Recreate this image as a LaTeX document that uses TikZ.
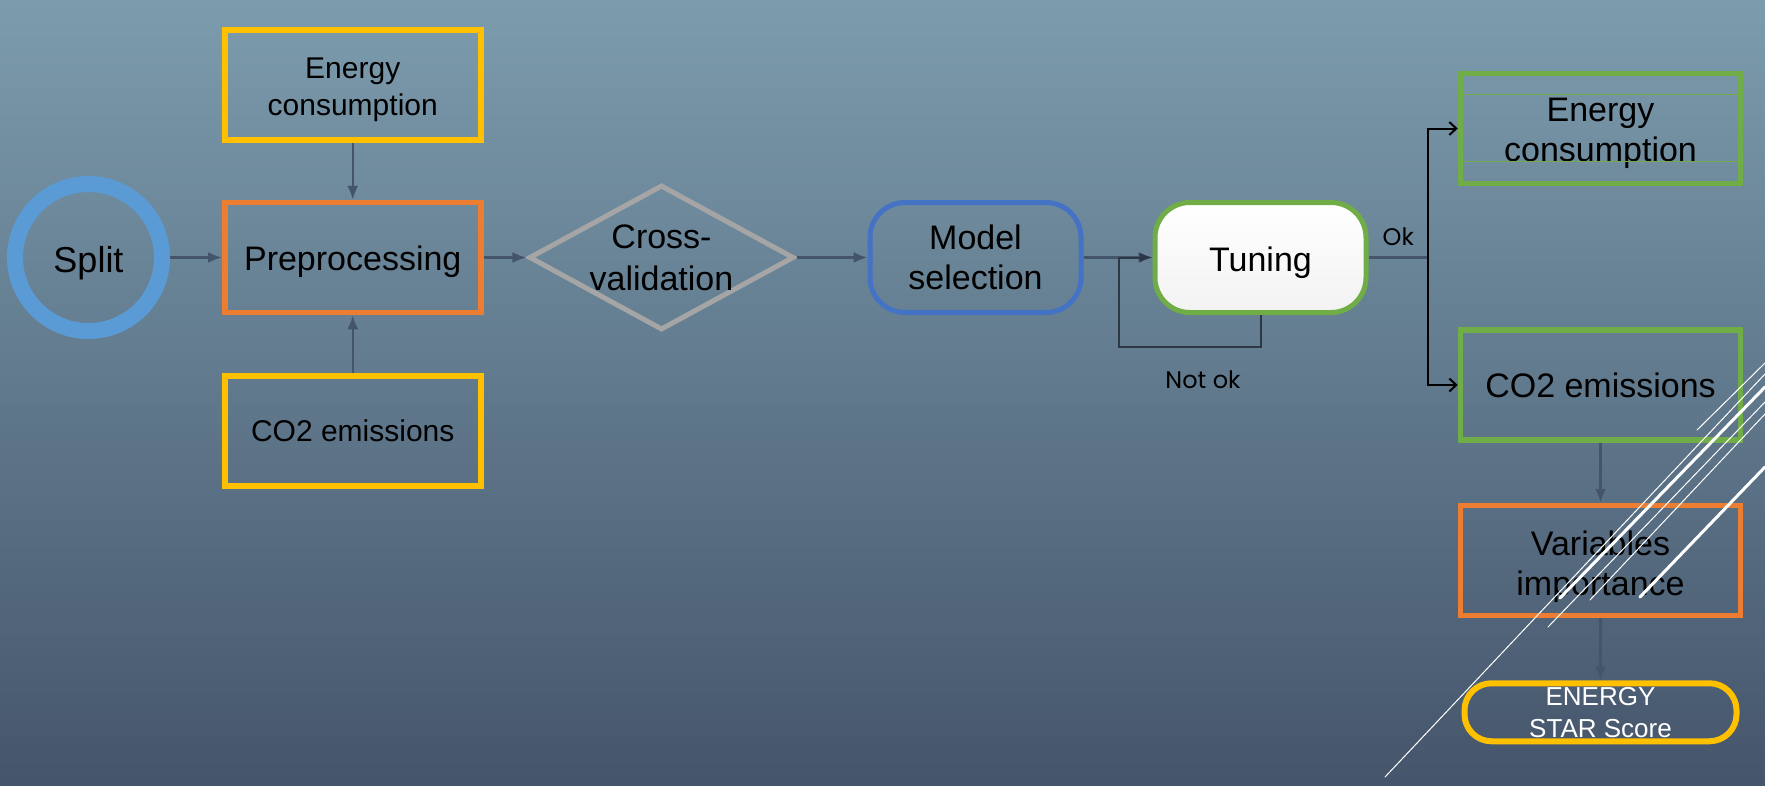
\documentclass[tikz,border=0pt]{standalone}
\usepackage{fontspec}
\setmainfont{Liberation Sans}
\newfontfamily\gothic{Poppins}
\usetikzlibrary{positioning,shapes.geometric,arrows.meta}

\definecolor{bgtop}{RGB}{124,156,173}
\definecolor{bgbot}{RGB}{69,85,107}
\definecolor{splitblue}{RGB}{91,155,213}
\definecolor{orng}{RGB}{237,125,49}
\definecolor{yell}{RGB}{255,192,0}
\definecolor{grn}{RGB}{112,173,71}
\definecolor{mblue}{RGB}{68,114,196}
\definecolor{diagrey}{RGB}{165,165,165}
\definecolor{slate}{RGB}{68,84,106}
\definecolor{loopc}{RGB}{45,55,70}

\begin{document}
\begin{tikzpicture}[x=1pt,y=-1pt]
\tikzstyle{ring}=[circle, minimum size=147pt, line width=16pt, draw=splitblue, font=\fontsize{36}{40}\selectfont, text height=37pt]
\tikzstyle{box}=[rectangle, minimum width=256pt, minimum height=110pt, line width=5.5pt, align=center]
\tikzstyle{rbox}=[rectangle, rounded corners=35pt, minimum width=211pt, minimum height=110pt, line width=5pt, align=center, font=\fontsize{34}{40}\selectfont]
\tikzstyle{wbox}=[rectangle, minimum width=280pt, minimum height=110pt, line width=5.5pt, align=center, font=\fontsize{34}{40}\selectfont]
\tikzstyle{connect}=[-{Latex[length=14pt,width=11pt]}, line width=2.5pt, draw=slate]
\tikzstyle{branch}=[-{Straight Barb[length=7pt,width=13pt]}, line width=2pt, draw=black]
\tikzstyle{streak}=[draw=white, line cap=round]
	% background
	\shade[top color=bgtop, bottom color=bgbot] (0,0) rectangle (1765,785);
	\useasboundingbox (0,0) rectangle (1765,785);
	% left part
	\node[ring] (split) at (88.5,257.5) {Split};
	\node[box, draw=orng, font=\fontsize{34}{40}\selectfont, text height=34pt] (prep) [right=52pt of split] {Preprocessing};
	\node[box, draw=yell, font=\fontsize{30}{37}\selectfont, text height=67.5pt] (energyl) [above=57pt of prep] {Energy\\consumption};
	\node[box, draw=yell, font=\fontsize{30}{37}\selectfont] (co2l) [below=58pt of prep] {CO2 emissions};
	\path (split) edge [connect] (prep);
	\path (energyl) edge [connect] (prep);
	\path (co2l) edge [connect] (prep);
	% middle part
	\node[diamond, draw=diagrey, line width=5pt, minimum width=265pt, minimum height=145pt, inner sep=0pt,
		label={[align=center, font=\fontsize{34}{42}\selectfont]center:Cross-\\validation}] (cv) [right=43pt of prep] {};
	\node[rbox, draw=mblue] (model) [right=71pt of cv] {Model\\selection};
	\node[rbox, draw=grn, top color=white, bottom color=black!5, text height=36pt] (tuning) [right=69pt of model] {Tuning};
	\path (prep) edge [connect] (cv);
	\path (cv) edge [connect] (model);
	\path (model) edge [connect] (tuning);
	\coordinate (loopc1) at (1119,347);
	\draw[-{Latex[length=13pt,width=10pt]}, line width=2pt, draw=loopc] (tuning.south) |- (loopc1) |- (tuning.west);
	\node[font=\gothic\fontsize{24}{28}\selectfont] (notok) at (1203,380) {Not ok};
	% right part
	\node[wbox, draw=grn, text height=74pt] (energyr) at (1600.5,128.5) {Energy\\consumption};
	\node[wbox, draw=grn] (co2r) at (1600.5,385) {CO2 emissions};
	\node[wbox, draw=orng, text height=78pt] (vars) [below=60pt of co2r] {Variables\\importance};
	\node[rectangle, rounded corners=27pt, minimum width=272pt, minimum height=58pt, line width=6pt, draw=yell,
		text=white, align=center, font=\fontsize{26}{32}\selectfont] (star) [below=62pt of vars] {ENERGY\\STAR Score};
	\draw[grn, line width=1pt] ([yshift=-24pt]energyr.north west) -- ([yshift=-24pt]energyr.north east);
	\draw[grn, line width=1pt] ([yshift=25pt]energyr.south west) -- ([yshift=25pt]energyr.south east);
	\coordinate (fork) at (1428,257.5);
	\draw[line width=2.5pt, draw=slate] (tuning.east) -- node[above=7pt, font=\gothic\fontsize{24}{28}\selectfont] (ok) {Ok} (fork);
	\draw[branch] (fork) |- (energyr.west);
	\draw[branch] (fork) |- (co2r.west);
	\path (co2r) edge [connect] (vars);
	\path (vars) edge [connect] (star);
	% white streaks
	\draw[streak, line width=1pt] (1385,777) -- (1765,374);
	\draw[streak, line width=3pt] (1560,598) -- (1765,387);
	\draw[streak, line width=1pt] (1548,627) -- (1765,402);
	\draw[streak, line width=1pt] (1590,600) -- (1765,414);
	\draw[streak, line width=3pt] (1640,597) -- (1765,467);
	\draw[streak, line width=1pt] (1697,430) -- (1765,363);
\end{tikzpicture}
\end{document}
